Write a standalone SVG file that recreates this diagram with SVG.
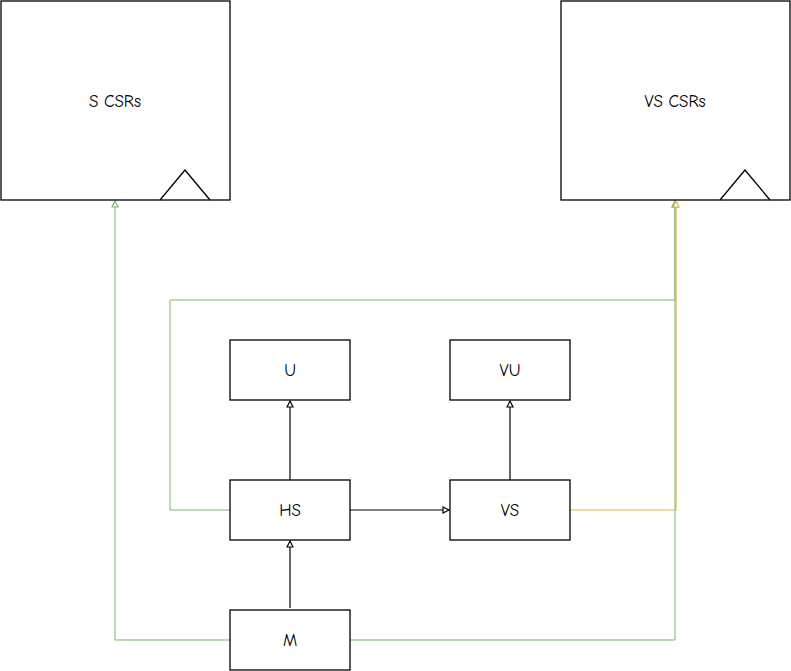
<svg xmlns="http://www.w3.org/2000/svg" width="791" height="671" viewBox="0 0 791 671">
<defs>
<style>
.box{fill:#fff;stroke:#000;stroke-width:1.3}
.tri{fill:none;stroke:#000;stroke-width:1.3;stroke-linejoin:round}
.lbl{font-family:"Comic Neue","Liberation Sans",sans-serif;font-size:17px;fill:#000;text-anchor:middle;dominant-baseline:central}
.blk{fill:none;stroke:#000;stroke-width:1.2}
.grn{fill:none;stroke:#82b366;stroke-width:1}
.ylw{fill:none;stroke:#d6b656;stroke-width:1.2}
</style>
<marker id="ab" markerWidth="10" markerHeight="10" refX="7" refY="4" orient="auto" markerUnits="userSpaceOnUse"><path d="M1,1 L7,4 L1,7 Z" fill="#fff" stroke="#000" stroke-width="1.2"/></marker>
<marker id="ag" markerWidth="10" markerHeight="10" refX="7" refY="4" orient="auto" markerUnits="userSpaceOnUse"><path d="M1,1 L7,4 L1,7 Z" fill="#fff" stroke="#82b366" stroke-width="1.2"/></marker>
<marker id="ay" markerWidth="10" markerHeight="10" refX="7" refY="4" orient="auto" markerUnits="userSpaceOnUse"><path d="M1,1 L7,4 L1,7 Z" fill="#fff" stroke="#d6b656" stroke-width="1.2"/></marker>
</defs>
<rect width="791" height="671" fill="#fff"/>
<g id="connectors">
<path class="grn" d="M230,640 L115,640 L115,201" marker-end="url(#ag)"/>
<path class="grn" d="M230,510 L170,510 L170,300 L675,300 L675,201" marker-end="url(#ag)"/>
<path class="grn" d="M350,640 L675,640 L675,201" marker-end="url(#ag)"/>
<path class="ylw" d="M570,510 L676,510 L676,201" marker-end="url(#ay)"/>
<path class="blk" d="M290,480 L290,401" marker-end="url(#ab)"/>
<path class="blk" d="M510,480 L510,401" marker-end="url(#ab)"/>
<path class="blk" d="M350,510 L449,510" marker-end="url(#ab)"/>
<path class="blk" d="M290,608 L290,541" marker-end="url(#ab)"/>
</g>
<g id="s-csrs">
<rect class="box" x="1" y="1" width="229" height="199"/>
<path class="tri" d="M160,200 L185,170 L210,200"/>
<text class="lbl" x="115" y="101">S CSRs</text>
</g>
<g id="vs-csrs">
<rect class="box" x="561" y="1" width="229" height="199"/>
<path class="tri" d="M720,200 L745,170 L770,200"/>
<text class="lbl" x="675" y="101">VS CSRs</text>
</g>
<g id="u">
<rect class="box" x="230" y="340" width="120" height="60"/>
<text class="lbl" x="290" y="370">U</text>
</g>
<g id="vu">
<rect class="box" x="450" y="340" width="120" height="60"/>
<text class="lbl" x="510" y="370">VU</text>
</g>
<g id="hs">
<rect class="box" x="230" y="480" width="120" height="60"/>
<text class="lbl" x="290" y="510">HS</text>
</g>
<g id="vs">
<rect class="box" x="450" y="480" width="120" height="60"/>
<text class="lbl" x="510" y="510">VS</text>
</g>
<g id="m">
<rect class="box" x="230" y="610" width="120" height="60"/>
<text class="lbl" x="290" y="640">M</text>
</g>
</svg>
